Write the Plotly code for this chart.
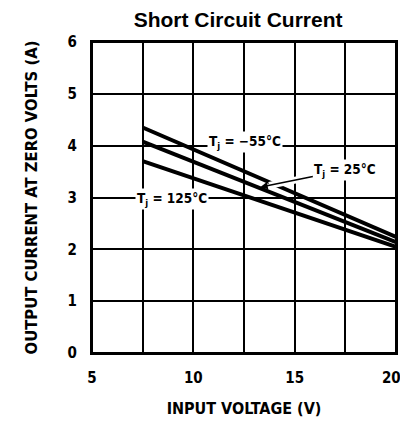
import plotly.graph_objects as go

# Data
input_voltage = [7.5, 20.0]
current_m55 = [4.35, 2.24]   # Tj = -55°C
current_25 = [4.08, 2.14]    # Tj = 25°C
current_125 = [3.70, 2.05]   # Tj = 125°C

x_tickvals = [5, 7.5, 10, 12.5, 15, 17.5, 20]
x_ticktext = ["5", "", "10", "", "15", "", "20&nbsp;&nbsp;"]
y_tickvals = [0, 1, 2, 3, 4, 5, 6]

COND = "DejaVu Sans Condensed, Liberation Sans Narrow, Arial Narrow, sans-serif"

fig = go.Figure()
for ys in (current_m55, current_25, current_125):
    fig.add_trace(go.Scatter(x=input_voltage, y=ys, mode="lines",
                             line=dict(color="black", width=4), showlegend=False,
                             hoverinfo="skip"))

lab_font = dict(family=COND, size=13.5, color="black", weight="bold")

# white gap arrow underneath the 25°C arrow (breaks the -55 line)
fig.add_annotation(x=13.3, y=3.2, ax=17.5, ay=3.53, axref="x", ayref="y",
                   xref="x", yref="y", text="", showarrow=True, arrowhead=0,
                   arrowwidth=7, arrowcolor="white", standoff=9)
fig.add_annotation(x=13.3, y=3.2, ax=17.5, ay=3.53, axref="x", ayref="y",
                   xref="x", yref="y", text="T<sub>j</sub> = 25°C", showarrow=True,
                   arrowhead=2, arrowsize=1, arrowwidth=1.5, arrowcolor="black",
                   bgcolor="white", font=lab_font)
fig.add_annotation(x=12.55, y=4.07, xref="x", yref="y",
                   text="T<sub>j</sub> = −55°C", showarrow=False,
                   bgcolor="white", font=lab_font)
fig.add_annotation(x=8.95, y=2.97, xref="x", yref="y",
                   text="T<sub>j</sub> = 125°C", showarrow=False,
                   bgcolor="white", font=lab_font)

# plot frame
fig.add_shape(type="rect", xref="paper", yref="paper", x0=0, x1=1, y0=0, y1=1,
              line=dict(color="black", width=2), layer="above")

axis_common = dict(showgrid=True, gridcolor="black", gridwidth=2,
                   showline=True, linecolor="black", linewidth=2, mirror=True,
                   zeroline=False, ticks="", automargin=False,
                   ticklabeloverflow="allow",
                   tickfont=dict(family=COND, size=15, color="black", weight="bold"))

fig.update_xaxes(range=[5, 20], tickvals=x_tickvals, ticktext=x_ticktext,
                 ticklabelstandoff=10,
                 title=dict(text="INPUT VOLTAGE (V)", standoff=30,
                            font=dict(family=COND, size=16, color="black", weight="bold")),
                 **axis_common)
fig.update_yaxes(range=[0, 6], tickvals=y_tickvals, ticklabelstandoff=10,
                 title=dict(text="OUTPUT CURRENT AT ZERO VOLTS (A)", standoff=26,
                            font=dict(family=COND, size=16.5, color="black", weight="bold")),
                 **axis_common)

# page has an 8px body margin: figure sits at (8, 8)
fig.update_layout(
    width=392, height=410,
    margin=dict(l=84, r=4, t=34, b=65),
    paper_bgcolor="white", plot_bgcolor="white",
    title=dict(text="<b>Short Circuit Current</b>", x=0.587, xanchor="center",
               y=0.9707, yanchor="middle",
               font=dict(family="Liberation Sans, Arial, sans-serif", size=21, color="black")),
)

fig.write_html("out.html")
